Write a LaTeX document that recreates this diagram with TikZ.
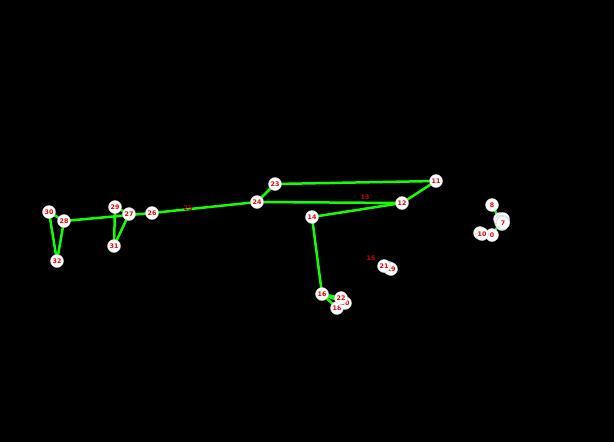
\documentclass[tikz,border=0pt]{standalone}
\usepackage{fontspec}
\setsansfont{DejaVu Sans}
\begin{document}
\begin{tikzpicture}[x=1pt,y=-1pt,
  lm/.style={circle,fill=white,draw=gray!40,line width=0.4pt,inner sep=0pt,minimum size=13pt,
    text=red!95!black,font=\sffamily\bfseries\fontsize{6.3}{6.3}\selectfont},
  hid/.style={inner sep=0pt,text=red!85!black,font=\sffamily\bfseries\fontsize{6.3}{6.3}\selectfont},
  bone/.style={draw=green!90!lime,line width=2.5pt,line cap=round}]
\fill[black] (0,0) rectangle (614,442);
\useasboundingbox (0,0) rectangle (614,442);
% coordinates
\foreach \n/\x/\y in {0/492/235,1/500/219,2/502/220,3/503/219,4/501/222,5/503/222,6/502/224,7/503/223,8/492/205,9/480/233,10/482/234,
  11/436/181,12/402/203,13/365/197,14/312/217,15/371/258,16/322/294,17/389/268,18/337/308,19/391/269,20/345/303,21/384/266,22/341/298,
  23/275/184,24/257/202,25/188/208,26/152/213,27/129/214,28/64/221,29/115/207,30/49/212,31/114/246,32/57/261}
  \coordinate (p\n) at (\x,\y);
% connectors
\foreach \a/\b in {11/12,11/23,12/24,23/24,12/14,14/16,16/18,16/20,16/22,18/20,24/26,26/28,28/30,28/32,30/32,27/29,27/31,29/31,6/8,0/4}
  \draw[bone] (p\a) -- (p\b);
% landmarks
\foreach \n in {0,...,12,14,16,17,18,19,20,21,22,23,24,26,27,28,29,30,31,32}
  \node[lm] (n\n) at (p\n) {\n};
\node[hid] (n13) at (p13) {13};
\node[hid] (n15) at (p15) {15};
\node[hid,text=red!70!black] (n25) at (p25) {25};
\end{tikzpicture}
\end{document}
